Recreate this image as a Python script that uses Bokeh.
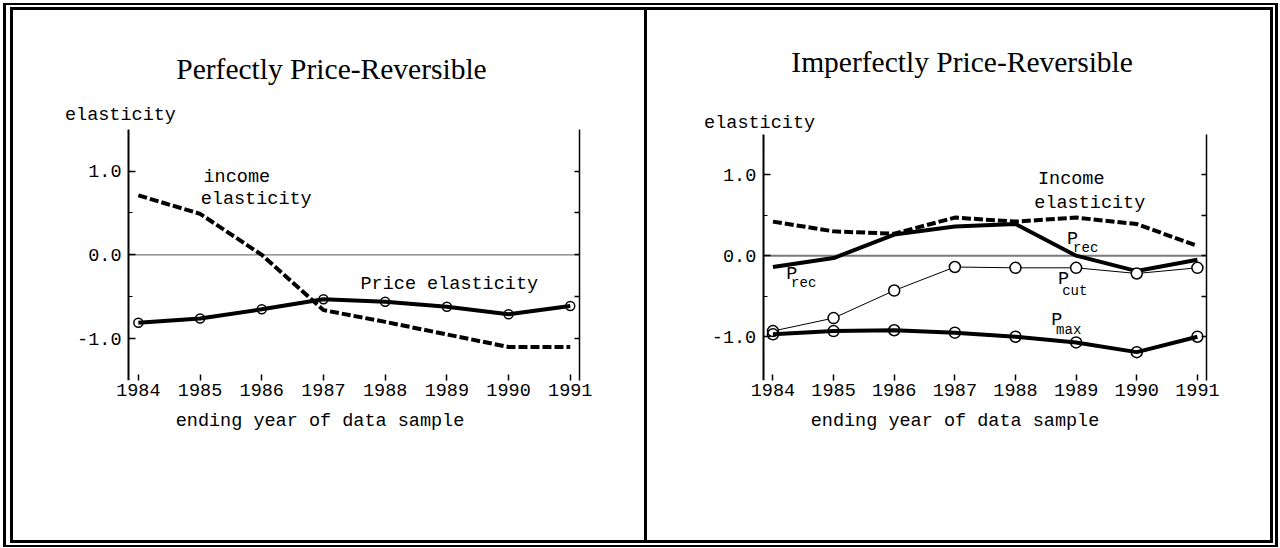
from bokeh.plotting import figure
from bokeh.models import Range1d, LinearAxis, FixedTicker, Label, NumeralTickFormatter
from bokeh.layouts import row
from bokeh.embed import file_html
from bokeh.resources import INLINE

# ---------------- data ----------------
years = [1984, 1985, 1986, 1987, 1988, 1989, 1990, 1991]
left_income = [0.71, 0.49, 0.0, -0.66, -0.80, -0.95, -1.10, -1.10]
left_price = [-0.81, -0.76, -0.65, -0.53, -0.56, -0.62, -0.71, -0.61]
right_income = [0.42, 0.30, 0.27, 0.47, 0.42, 0.47, 0.39, 0.12]
right_p_rec = [-0.14, -0.03, 0.26, 0.36, 0.39, 0.0, -0.19, -0.05]
right_p_cut = [-0.93, -0.77, -0.43, -0.14, -0.15, -0.15, -0.22, -0.15]
right_p_max = [-0.97, -0.93, -0.92, -0.95, -1.0, -1.07, -1.19, -1.0]
y_ticks = [-1.0, 0.0, 1.0]
y_minor = [-0.5, 0.5]
right_ticks = [-1.0, -0.5, 0.0, 0.5, 1.0]
titles = ["Perfectly Price-Reversible", "Imperfectly Price-Reversible"]

X_LO, X_HI = 1983.84, 1991.15   # extent of the drawn axes
Y_TOP = 1.5

MONO = "Liberation Mono"
SERIF = "Liberation Serif"
FS = "18.5px"
H = 548


def make_panel(width, x_start, y_start, y_end, ml, mr, title, title_xy, ylab_xy):
    p = figure(width=width, height=H,
               x_range=Range1d(x_start, X_HI), y_range=Range1d(y_start, y_end),
               output_backend="svg", toolbar_location=None,
               min_border_left=ml, min_border_right=mr,
               min_border_top=29, min_border_bottom=168)
    p.background_fill_color = "white"
    p.border_fill_color = None
    p.outline_line_color = None
    p.grid.visible = False

    xa = p.xaxis[0]
    xa.ticker = FixedTicker(ticks=years)
    xa.axis_line_color = None
    xa.major_tick_in = 6
    xa.major_tick_out = 0
    xa.major_tick_line_width = 1.5
    xa.major_tick_line_color = "black"
    xa.minor_tick_line_color = None
    xa.major_label_text_font = MONO
    xa.major_label_text_font_size = FS
    xa.major_label_text_color = "black"
    xa.major_label_standoff = 3
    xa.axis_label = "ending year of data sample"
    xa.axis_label_text_font = MONO
    xa.axis_label_text_font_size = FS
    xa.axis_label_text_font_style = "normal"
    xa.axis_label_text_color = "black"
    xa.axis_label_standoff = 12

    ya = p.yaxis[0]
    ya.fixed_location = X_LO
    ya.bounds = (y_start, Y_TOP)
    ya.ticker = FixedTicker(ticks=y_ticks, minor_ticks=y_minor)
    ya.formatter = NumeralTickFormatter(format="0.0")
    ya.axis_line_width = 2
    ya.axis_line_color = "black"
    ya.major_tick_in = 7
    ya.major_tick_out = 0
    ya.major_tick_line_width = 1.5
    ya.minor_tick_in = 4
    ya.minor_tick_out = 0
    ya.minor_tick_line_width = 1.2
    ya.major_label_text_font = MONO
    ya.major_label_text_font_size = FS
    ya.major_label_text_color = "black"
    ya.major_label_standoff = 7

    ra = LinearAxis(ticker=FixedTicker(ticks=right_ticks, minor_ticks=[]))
    ra.bounds = (y_start, Y_TOP)
    ra.axis_line_width = 1.5
    ra.axis_line_color = "black"
    ra.major_tick_in = 5
    ra.major_tick_out = 0
    ra.major_tick_line_width = 1.5
    ra.minor_tick_line_color = None
    ra.major_label_text_color = None
    ra.major_label_text_font_size = "1px"
    p.add_layout(ra, "right")

    p.add_layout(Label(x=title_xy[0], y=title_xy[1], text=title, text_font=SERIF,
                       text_font_size="29.5px", text_align="center",
                       text_baseline="alphabetic", text_color="black"))
    p.add_layout(Label(x=ylab_xy[0], y=ylab_xy[1], text="elasticity", text_font=MONO,
                       text_font_size=FS, text_align="left",
                       text_baseline="middle", text_color="black"))
    return p


def note(p, x, y, text, size=FS):
    p.add_layout(Label(x=x, y=y, text=text, text_font=MONO, text_font_size=size,
                       text_align="left", text_baseline="middle", text_color="black"))


def zero_line(p, width):
    p.segment(x0=[X_LO], y0=[0], x1=[X_HI], y1=[0], line_color="#7a7a7a", line_width=width)


# ---------------- left panel ----------------
p1 = make_panel(645, 1982.738, -1.5, 2.69, 60, 66, titles[0], (1987.13, 2.224), (1982.81, 1.663))
zero_line(p1, 1.3)
p1.line(years, left_income, line_color="black", line_width=4, line_dash="9 3")
p1.line(years, left_price, line_color="black", line_width=4)
p1.scatter(years, left_price, marker="circle", size=9, fill_color=None,
           line_color="black", line_width=1.5)
note(p1, 1985.056, 0.929, "income")
note(p1, 1985.01, 0.666, "elasticity")
note(p1, 1987.60, -0.351, "Price elasticity")

# ---------------- right panel ----------------
p2 = make_panel(635, 1982.855, -1.54, 2.79, 58, 74, titles[1], (1987.12, 2.383), (1982.865, 1.63))
zero_line(p2, 2)
p2.line(years, right_income, line_color="black", line_width=4, line_dash="9 3")
p2.line(years, right_p_rec, line_color="black", line_width=4)
p2.line(years, right_p_cut, line_color="black", line_width=1)
p2.scatter(years, right_p_cut, marker="circle", size=11, fill_color="white",
           line_color="black", line_width=1.5)
p2.line(years, right_p_max, line_color="black", line_width=4)
p2.scatter(years, right_p_max, marker="circle", size=11, fill_color=None,
           line_color="black", line_width=1.5)
note(p2, 1988.37, 0.94, "Income")
note(p2, 1988.31, 0.64, "elasticity")
note(p2, 1988.85, 0.20, "P")
note(p2, 1988.95, 0.09, "rec", "14px")
note(p2, 1984.22, -0.23, "P")
note(p2, 1984.30, -0.34, "rec", "14px")
note(p2, 1988.70, -0.30, "P")
note(p2, 1988.77, -0.43, "cut", "14px")
note(p2, 1988.59, -0.80, "P")
note(p2, 1988.67, -0.92, "max", "14px")

# page frame: double outer border and the divider between the two panels
frame_lines = [
    (3, 3, 1275, 2), (3, 545, 1275, 2), (3, 3, 3, 544), (1275, 3, 3, 544),
    (10, 7, 1263, 3), (10, 540, 1263, 3), (10, 7, 3, 536), (1270, 7, 3, 536),
    (644, 7, 3, 536),
]
layers = ", ".join(
    "linear-gradient(#000, #000) %dpx %dpx / %dpx %dpx no-repeat" % fl for fl in frame_lines
)
layout = row(p1, p2)
layout.styles = {"background": layers + ", #fff"}

open("out.html", "w").write(file_html(layout, INLINE))
